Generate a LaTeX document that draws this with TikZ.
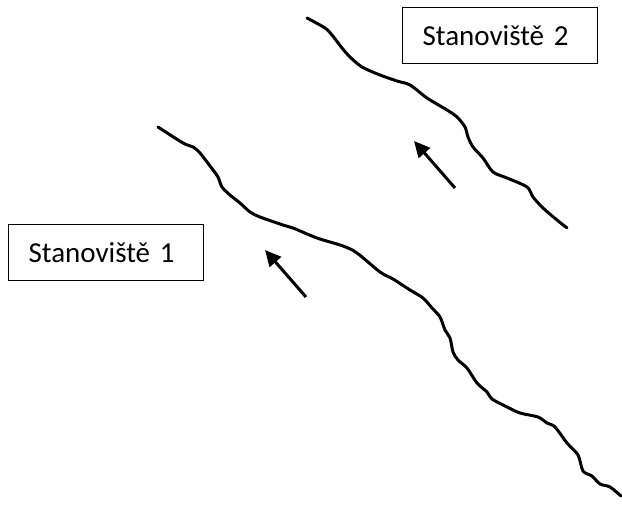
\documentclass[tikz,border=0pt]{standalone}
\usepackage{fontspec}
\setmainfont{Carlito}
\usetikzlibrary{arrows.meta}
\begin{document}
\begin{tikzpicture}[x=1pt,y=-1pt,
  bank/.style={line width=3pt, line cap=round, line join=round},
  flowarrow/.style={line width=3pt, -{Triangle[length=16pt,width=15pt]}},
  sitebox/.style={draw, line width=1.2pt, font=\fontsize{29}{34}\selectfont,
    text width=155pt, align=left, inner xsep=20pt, minimum height=56pt, anchor=north west}]
\useasboundingbox (0,0) rectangle (622,506);
% lower river bank
\draw[bank] plot[smooth, tension=0.5] coordinates {
  (158,127) (183,143) (193,147) (200,153) (213,170) (218,177) (222,187)
  (230,195) (240,203) (250,212) (260,217) (283,225) (293,228) (317,238)
  (343,246) (357,253) (380,272) (393,279) (410,290) (423,298) (432,308)
  (440,317) (445,330) (450,338) (453,352) (458,360) (467,368) (477,383)
  (487,392) (492,399) (507,407) (520,413) (538,417) (547,423) (555,427)
  (567,443) (578,455) (583,471) (592,476) (600,484) (610,487) (621,496)};
% upper river bank
\draw[bank] plot[smooth, tension=0.5] coordinates {
  (307,18) (325,28) (332,35) (342,48) (350,57) (362,67) (380,75) (397,81)
  (410,85) (427,98) (447,110) (457,117) (465,127) (468,137) (473,147)
  (483,158) (493,172) (507,178) (527,187) (533,197) (543,208) (557,220)
  (567,228)};
% flow direction
\coordinate (f1s) at (306,297);
\coordinate (f1e) at (265,250);
\coordinate (f2s) at (455,188);
\coordinate (f2e) at (414,141);
\draw[flowarrow] (f1s) -- (f1e);
\draw[flowarrow] (f2s) -- (f2e);
% sampling sites
\node[sitebox] (site1) at (8,224) {Stanoviště 1};
\node[sitebox] (site2) at (402,7) {Stanoviště 2};
\end{tikzpicture}
\end{document}
